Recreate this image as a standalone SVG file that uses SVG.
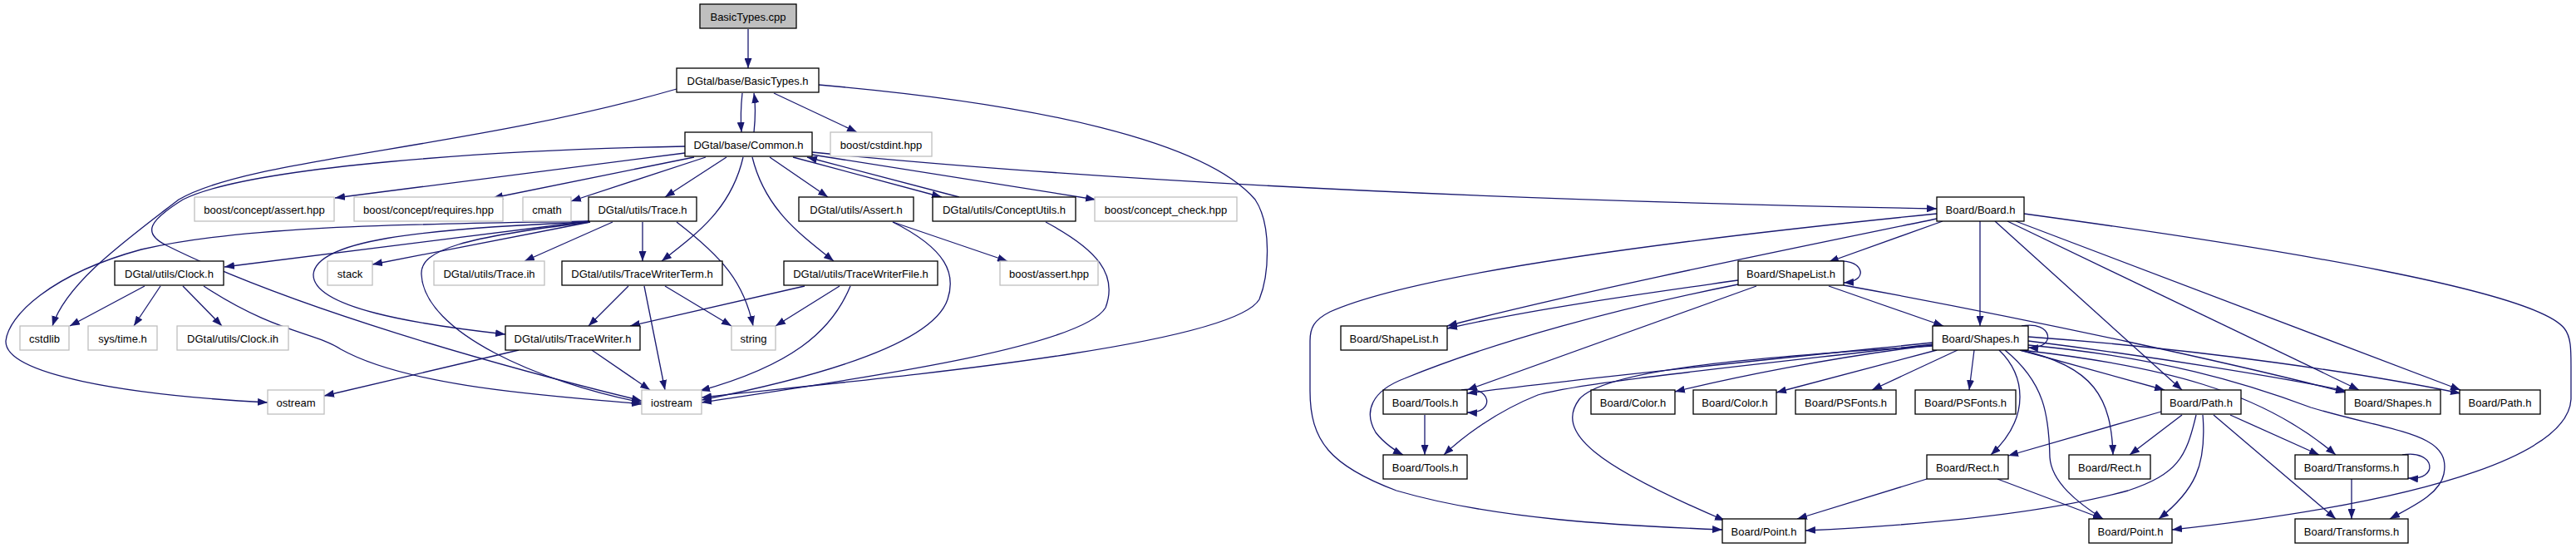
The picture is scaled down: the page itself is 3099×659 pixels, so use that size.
<svg xmlns="http://www.w3.org/2000/svg" width="3099" height="659" viewBox="0 0 3099 659">
<style>
.nd rect{fill:#ffffff;stroke:#000000;stroke-width:1.3}
.ex rect{fill:#ffffff;stroke:#bfbfbf;stroke-width:1.3}
.rt rect{fill:#bfbfbf;stroke:#000000;stroke-width:1.3}
text{font-family:"Liberation Sans",Arial,Helvetica,sans-serif;font-size:13px;text-anchor:middle;fill:#000}
#edges path{fill:none;stroke:#191970;stroke-width:1.3;marker-end:url(#ah)}
</style>
<defs>
<marker id="ah" markerUnits="userSpaceOnUse" markerWidth="13" markerHeight="9" refX="12" refY="4.5" orient="auto">
<path d="M0,0 L12,4.5 L0,9 z" fill="#191970"/>
</marker>
</defs>
<rect width="3099" height="659" fill="#ffffff"/>
<g id="edges">
<path d="M900,35 L900,82"/>
<path d="M893,112 C891,130 891,145 892,159"/>
<path d="M907,159 C909,140 909,125 907,112"/>
<path d="M931,112 L1031,159"/>
<path d="M814,107 C560,180 300,190 215,240 C150,290 80,340 63,392"/>
<path d="M985,102 C1250,125 1450,170 1510,240 C1530,270 1527,330 1515,360 C1480,420 1000,460 844,478"/>
<path d="M824,184 L403,238"/>
<path d="M835,189 L593,238"/>
<path d="M849,189 L687,242"/>
<path d="M874,189 L800,237"/>
<path d="M894,189 C880,250 840,280 796,314"/>
<path d="M905,189 C920,250 960,280 1003,314"/>
<path d="M926,189 L996,237"/>
<path d="M954,189 L1133,237"/>
<path d="M1154,237 L971,189"/>
<path d="M977,186 L1318,240"/>
<path d="M977,183 Q1500,235 2330,251"/>
<path d="M824,176 C600,180 300,200 220,240 C180,265 170,280 200,295 C350,370 600,440 772,482"/>
<path d="M708,266 C500,270 300,270 170,300 C60,330 10,380 7,410 C5,450 150,475 322,484"/>
<path d="M708,266 L270,321"/>
<path d="M710,267 L448,318"/>
<path d="M709,267 C500,275 380,290 377,330 C376,370 500,390 608,402"/>
<path d="M710,267 C560,285 505,300 507,330 C510,400 650,460 772,484"/>
<path d="M737,267 L631,314"/>
<path d="M773,267 L773,314"/>
<path d="M814,267 C870,310 895,340 906,392"/>
<path d="M174,344 L84,392"/>
<path d="M193,344 L161,392"/>
<path d="M220,344 L267,392"/>
<path d="M245,344 C330,400 380,400 410,420 C500,470 700,478 772,486"/>
<path d="M756,344 L708,392"/>
<path d="M775,344 L800,469"/>
<path d="M800,344 L880,392"/>
<path d="M968,344 L758,392"/>
<path d="M1010,344 L933,392"/>
<path d="M1023,344 C1000,400 950,440 842,470"/>
<path d="M624,421 L390,476"/>
<path d="M712,421 L782,469"/>
<path d="M1074,267 L1212,314"/>
<path d="M1074,267 C1140,300 1150,330 1140,360 C1120,420 950,460 844,481"/>
<path d="M1258,267 C1320,300 1345,330 1330,370 C1300,420 1000,460 844,484"/>
<path d="M2337,266 L2200,315"/>
<path d="M2382,266 L2382,392"/>
<path d="M2400,266 L2625,469"/>
<path d="M2425,266 L2960,469"/>
<path d="M2415,266 L2838,469"/>
<path d="M2435,257 C2750,300 3050,350 3085,395 C3093,405 3093,420 3093,440 L3093,480 C3090,540 2950,600 2613,637"/>
<path d="M2330,257 C2000,290 1700,330 1600,375 C1580,385 1576,395 1576,410 L1576,470 C1576,530 1600,560 1680,590 C1800,625 1950,632 2072,637"/>
<path d="M2330,263 C2200,290 1900,350 1741,392"/>
<path d="M2205,315 C2240,308 2252,338 2218,340"/>
<path d="M2091,337 C2000,350 1850,370 1741,395"/>
<path d="M2091,342 C1950,370 1800,410 1690,455 C1650,470 1640,495 1655,520 C1665,533 1680,543 1688,547"/>
<path d="M2113,344 L1765,469"/>
<path d="M2200,344 L2338,392"/>
<path d="M2218,343 C2450,385 2700,440 2822,472"/>
<path d="M2432,392 C2470,385 2475,420 2440,418"/>
<path d="M2325,412 C2150,430 1900,455 1765,473"/>
<path d="M2325,414 C2100,440 1900,460 1850,475 C1800,495 1760,525 1737,547"/>
<path d="M2325,416 C2100,430 1930,445 1900,480 C1870,520 1920,560 2075,626"/>
<path d="M2325,415 C2200,430 2080,455 2015,471"/>
<path d="M2330,421 L2137,472"/>
<path d="M2355,421 L2252,469"/>
<path d="M2375,421 L2369,469"/>
<path d="M2405,421 C2435,450 2445,500 2395,547"/>
<path d="M2412,421 C2460,460 2465,500 2466,550 C2468,580 2500,605 2530,624"/>
<path d="M2430,421 C2520,440 2540,480 2542,547"/>
<path d="M2430,421 L2604,469"/>
<path d="M2440,410 C2600,430 2750,455 2822,470"/>
<path d="M2440,405 C2650,420 2850,450 2960,473"/>
<path d="M2432,421 C2600,440 2720,470 2810,547"/>
<path d="M2440,415 C2600,430 2700,460 2780,490 C2880,520 2950,520 2940,570 C2935,595 2900,610 2875,624"/>
<path d="M2600,495 L2416,548"/>
<path d="M2625,499 L2562,547"/>
<path d="M2642,499 C2630,550 2620,570 2560,590 C2450,620 2300,632 2172,638"/>
<path d="M2650,499 C2655,560 2640,590 2597,624"/>
<path d="M2683,499 L2790,547"/>
<path d="M2663,499 L2810,624"/>
<path d="M2318,576 L2162,624"/>
<path d="M2403,576 L2530,624"/>
<path d="M2890,547 C2930,540 2935,578 2897,575"/>
<path d="M2829,576 L2829,624"/>
<path d="M1758,469 C1795,462 1800,498 1765,496"/>
<path d="M1714,499 L1714,547"/>
</g>
<g id="n0" class="rt"><rect x="842" y="5" width="116" height="29"/><text x="900" y="24.5">BasicTypes.cpp</text></g>
<g id="n1" class="nd"><rect x="814" y="82" width="171" height="29"/><text x="899.5" y="101.5">DGtal/base/BasicTypes.h</text></g>
<g id="n2" class="nd"><rect x="824" y="159" width="153" height="29"/><text x="900.5" y="178.5">DGtal/base/Common.h</text></g>
<g id="n3" class="ex"><rect x="999" y="159" width="122" height="29"/><text x="1060" y="178.5">boost/cstdint.hpp</text></g>
<g id="n4" class="ex"><rect x="234" y="237" width="168" height="29"/><text x="318" y="256.5">boost/concept/assert.hpp</text></g>
<g id="n5" class="ex"><rect x="426" y="237" width="179" height="29"/><text x="515.5" y="256.5">boost/concept/requires.hpp</text></g>
<g id="n6" class="ex"><rect x="629" y="237" width="58" height="29"/><text x="658" y="256.5">cmath</text></g>
<g id="n7" class="nd"><rect x="708" y="237" width="130" height="29"/><text x="773" y="256.5">DGtal/utils/Trace.h</text></g>
<g id="n8" class="nd"><rect x="961" y="237" width="138" height="29"/><text x="1030" y="256.5">DGtal/utils/Assert.h</text></g>
<g id="n9" class="nd"><rect x="1122" y="237" width="172" height="29"/><text x="1208" y="256.5">DGtal/utils/ConceptUtils.h</text></g>
<g id="n10" class="ex"><rect x="1317" y="237" width="171" height="29"/><text x="1402.5" y="256.5">boost/concept_check.hpp</text></g>
<g id="n11" class="nd"><rect x="2330" y="237" width="105" height="29"/><text x="2382.5" y="256.5">Board/Board.h</text></g>
<g id="n12" class="nd"><rect x="138" y="314" width="131" height="29"/><text x="203.5" y="333.5">DGtal/utils/Clock.h</text></g>
<g id="n13" class="ex"><rect x="394" y="314" width="54" height="29"/><text x="421" y="333.5">stack</text></g>
<g id="n14" class="ex"><rect x="522" y="314" width="133" height="29"/><text x="588.5" y="333.5">DGtal/utils/Trace.ih</text></g>
<g id="n15" class="nd"><rect x="676" y="314" width="193" height="29"/><text x="772.5" y="333.5">DGtal/utils/TraceWriterTerm.h</text></g>
<g id="n16" class="nd"><rect x="943" y="314" width="185" height="29"/><text x="1035.5" y="333.5">DGtal/utils/TraceWriterFile.h</text></g>
<g id="n17" class="ex"><rect x="1203" y="314" width="118" height="29"/><text x="1262" y="333.5">boost/assert.hpp</text></g>
<g id="n18" class="nd"><rect x="2091" y="314" width="127" height="29"/><text x="2154.5" y="333.5">Board/ShapeList.h</text></g>
<g id="n19" class="ex"><rect x="24" y="392" width="59" height="29"/><text x="53.5" y="411.5">cstdlib</text></g>
<g id="n20" class="ex"><rect x="106" y="392" width="83" height="29"/><text x="147.5" y="411.5">sys/time.h</text></g>
<g id="n21" class="ex"><rect x="213" y="392" width="134" height="29"/><text x="280" y="411.5">DGtal/utils/Clock.ih</text></g>
<g id="n22" class="nd"><rect x="608" y="392" width="162" height="29"/><text x="689" y="411.5">DGtal/utils/TraceWriter.h</text></g>
<g id="n23" class="ex"><rect x="880" y="392" width="53" height="29"/><text x="906.5" y="411.5">string</text></g>
<g id="n24" class="nd"><rect x="1613" y="392" width="128" height="29"/><text x="1677" y="411.5">Board/ShapeList.h</text></g>
<g id="n25" class="nd"><rect x="2325" y="392" width="115" height="29"/><text x="2382.5" y="411.5">Board/Shapes.h</text></g>
<g id="n26" class="ex"><rect x="322" y="469" width="68" height="29"/><text x="356" y="488.5">ostream</text></g>
<g id="n27" class="ex"><rect x="772" y="469" width="72" height="29"/><text x="808" y="488.5">iostream</text></g>
<g id="n28" class="nd"><rect x="1664" y="469" width="101" height="29"/><text x="1714.5" y="488.5">Board/Tools.h</text></g>
<g id="n29" class="nd"><rect x="1914" y="469" width="101" height="29"/><text x="1964.5" y="488.5">Board/Color.h</text></g>
<g id="n30" class="nd"><rect x="2037" y="469" width="100" height="29"/><text x="2087" y="488.5">Board/Color.h</text></g>
<g id="n31" class="nd"><rect x="2160" y="469" width="121" height="29"/><text x="2220.5" y="488.5">Board/PSFonts.h</text></g>
<g id="n32" class="nd"><rect x="2304" y="469" width="121" height="29"/><text x="2364.5" y="488.5">Board/PSFonts.h</text></g>
<g id="n33" class="nd"><rect x="2600" y="469" width="96" height="29"/><text x="2648" y="488.5">Board/Path.h</text></g>
<g id="n34" class="nd"><rect x="2821" y="469" width="115" height="29"/><text x="2878.5" y="488.5">Board/Shapes.h</text></g>
<g id="n35" class="nd"><rect x="2959" y="469" width="97" height="29"/><text x="3007.5" y="488.5">Board/Path.h</text></g>
<g id="n36" class="nd"><rect x="1664" y="547" width="101" height="29"/><text x="1714.5" y="566.5">Board/Tools.h</text></g>
<g id="n37" class="nd"><rect x="2318" y="547" width="98" height="29"/><text x="2367" y="566.5">Board/Rect.h</text></g>
<g id="n38" class="nd"><rect x="2489" y="547" width="98" height="29"/><text x="2538" y="566.5">Board/Rect.h</text></g>
<g id="n39" class="nd"><rect x="2761" y="547" width="136" height="29"/><text x="2829" y="566.5">Board/Transforms.h</text></g>
<g id="n40" class="nd"><rect x="2072" y="624" width="100" height="29"/><text x="2122" y="643.5">Board/Point.h</text></g>
<g id="n41" class="nd"><rect x="2513" y="624" width="100" height="29"/><text x="2563" y="643.5">Board/Point.h</text></g>
<g id="n42" class="nd"><rect x="2761" y="624" width="136" height="29"/><text x="2829" y="643.5">Board/Transforms.h</text></g>
</svg>
